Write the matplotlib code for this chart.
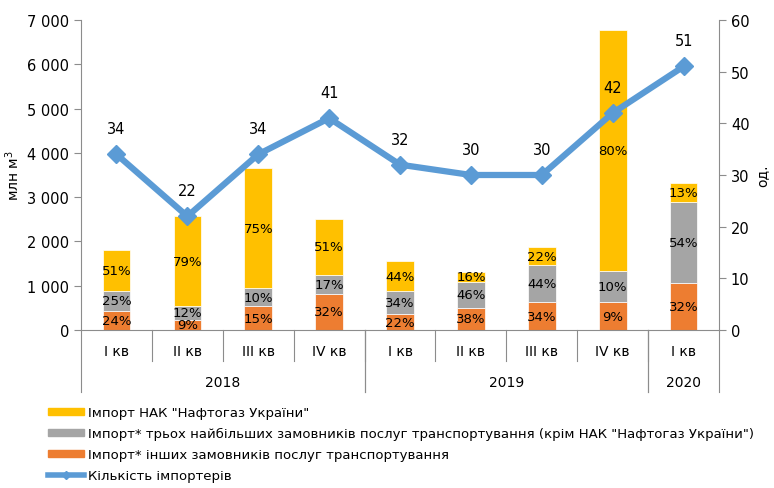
import matplotlib.pyplot as plt
from matplotlib.patches import Patch
from matplotlib.lines import Line2D
from matplotlib.ticker import FuncFormatter
import matplotlib.transforms as mtransforms

plt.rcParams['font.family'] = ['DejaVu Sans']

quarters = ["I кв", "II кв", "III кв", "IV кв", "I кв", "II кв", "III кв", "IV кв", "I кв"]
years = ["2018", "2019", "2020"]
year_spans = [(0, 3), (4, 7), (8, 8)]

# млн м3
orange = [436, 226, 542, 820, 354, 504, 625, 625, 1068]
gray = [444, 316, 406, 429, 526, 587, 843, 715, 1815]
yellow = [926, 2032, 2710, 1264, 678, 225, 398, 5433, 436]

orange_pct = ["24%", "9%", "15%", "32%", "22%", "38%", "34%", "9%", "32%"]
gray_pct = ["25%", "12%", "10%", "17%", "34%", "46%", "44%", "10%", "54%"]
yellow_pct = ["51%", "79%", "75%", "51%", "44%", "16%", "22%", "80%", "13%"]

importers = [34, 22, 34, 41, 32, 30, 30, 42, 51]

c_yellow = "#FFC000"
c_gray = "#A5A5A5"
c_orange = "#ED7D31"
c_line = "#5B9BD5"
c_axis = "#8C8C8C"

fig = plt.figure(figsize=(7.74, 4.89), dpi=100)
ax = fig.add_axes([0.1047, 0.3231, 0.8243, 0.634])
x = list(range(len(quarters)))
w = 0.39

bottoms2 = orange
bottoms3 = [a + b for a, b in zip(orange, gray)]
ax.bar(x, orange, w, color=c_orange, edgecolor="white", linewidth=0.5, zorder=2)
ax.bar(x, gray, w, bottom=bottoms2, color=c_gray, edgecolor="white", linewidth=0.5, zorder=2)
ax.bar(x, yellow, w, bottom=bottoms3, color=c_yellow, edgecolor="white", linewidth=0.5, zorder=2)

fs = 10
pfs = 9.5
for i in x:
    ax.text(i, orange[i] / 2, orange_pct[i], ha="center", va="center", fontsize=pfs, zorder=3)
    ax.text(i, bottoms2[i] + gray[i] / 2, gray_pct[i], ha="center", va="center", fontsize=pfs, zorder=3)
    ax.text(i, bottoms3[i] + yellow[i] / 2, yellow_pct[i], ha="center", va="center", fontsize=pfs, zorder=3)

ax.set_xlim(-0.5, len(quarters) - 0.5)
ax.set_ylim(0, 7000)
ax.set_yticks(range(0, 7001, 1000))
ax.yaxis.set_major_formatter(FuncFormatter(lambda v, p: f"{int(v):,}".replace(",", " ")))
ax.set_xticks([])
ax.set_ylabel("млн м$^3$", fontsize=fs, labelpad=4)

ax2 = ax.twinx()
ax2.plot(x, importers, color=c_line, lw=4.5, marker="D", ms=9, zorder=4)
for i, v in enumerate(importers):
    ax2.annotate(str(v), (i, v), xytext=(0, 13), textcoords="offset points",
                 ha="center", va="bottom", fontsize=fs + 0.5)
ax2.set_ylim(0, 60)
ax2.set_yticks(range(0, 61, 10))
ax2.set_ylabel("од.", fontsize=fs, rotation=90, labelpad=4)

for a in (ax, ax2):
    a.spines["top"].set_visible(False)
    for s in ("left", "right", "bottom"):
        a.spines[s].set_color(c_axis)
    a.tick_params(axis="y", colors="black", labelsize=fs + 0.5, length=5, color=c_axis, direction="out")
ax.spines["right"].set_visible(False)
ax2.spines["left"].set_visible(False)
ax2.spines["bottom"].set_visible(False)

# two-level category axis
trans = mtransforms.blended_transform_factory(ax.transData, ax.transAxes)
for i, q in enumerate(quarters):
    ax.text(i, -0.068, q, transform=trans, ha="center", va="center", fontsize=fs)
for k in range(1, len(quarters)):
    ax.plot([k - 0.5, k - 0.5], [0, -0.1], transform=trans, color=c_axis, lw=0.8, clip_on=False)
for (s, e), yr in zip(year_spans, years):
    ax.text((s + e) / 2, -0.168, yr, transform=trans, ha="center", va="center", fontsize=fs)
    for b in (s - 0.5, e + 0.5):
        ax.plot([b, b], [0, -0.2], transform=trans, color=c_axis, lw=0.8, clip_on=False)

handles = [
    Patch(color=c_yellow, label='Імпорт НАК "Нафтогаз України"'),
    Patch(color=c_gray, label='Імпорт* трьох найбільших замовників послуг транспортування (крім НАК "Нафтогаз України")'),
    Patch(color=c_orange, label="Імпорт* інших замовників послуг транспортування"),
    Line2D([], [], color=c_line, lw=4, marker="D", ms=4, label="Кількість імпортерів"),
]
fig.legend(handles=handles, loc="upper left", bbox_to_anchor=(0.062, 0.168),
           frameon=False, fontsize=9.5, handlelength=2.7, handleheight=0.45,
           handletextpad=0.35, labelspacing=0.62, borderpad=0, borderaxespad=0)

fig.savefig("out.png", dpi=100)
